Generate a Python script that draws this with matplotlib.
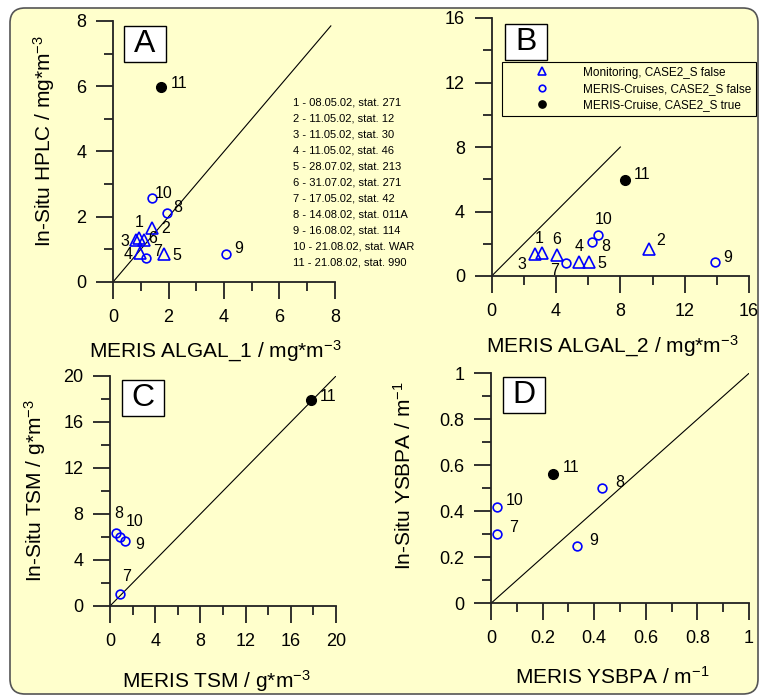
import matplotlib
matplotlib.use('Agg')
import matplotlib.pyplot as plt
from matplotlib.patches import FancyBboxPatch, Rectangle
from matplotlib.ticker import MultipleLocator, FuncFormatter

plt.rcParams['font.family'] = ['Liberation Sans', 'DejaVu Sans']
plt.rcParams['mathtext.fontset'] = 'custom'
plt.rcParams['mathtext.rm'] = 'Liberation Sans'
plt.rcParams['mathtext.default'] = 'regular'

# ---- data ----
# point ids: 1-6 monitoring, 7-10 MERIS cruises, 11 MERIS cruise (CASE2_S true)
ids_all = [1, 2, 3, 4, 5, 6, 7, 8, 9, 10, 11]
algal1_meris = [0.95, 1.40, 0.82, 0.97, 1.82, 1.12, 1.18, 1.94, 4.08, 1.40, 1.73]
algal1_insitu = [1.36, 1.64, 1.28, 0.90, 0.87, 1.30, 0.75, 2.10, 0.85, 2.58, 5.97]
algal2_meris = [3.10, 9.79, 2.69, 5.44, 6.06, 4.04, 4.61, 6.25, 13.87, 6.62, 8.28]
algal2_insitu = [1.41, 1.66, 1.35, 0.89, 0.89, 1.30, 0.79, 2.13, 0.85, 2.55, 5.96]

ids_cruise = [7, 8, 9, 10, 11]
tsm_meris = [0.88, 0.53, 1.33, 0.88, 17.8]
tsm_insitu = [1.05, 6.38, 5.64, 6.03, 17.9]
ysbpa_meris = [0.022, 0.431, 0.332, 0.022, 0.241]
ysbpa_insitu = [0.303, 0.501, 0.249, 0.419, 0.560]

station_list = ['1 - 08.05.02, stat. 271', '2 - 11.05.02, stat. 12',
                '3 - 11.05.02, stat. 30', '4 - 11.05.02, stat. 46',
                '5 - 28.07.02, stat. 213', '6 - 31.07.02, stat. 271',
                '7 - 17.05.02, stat. 42', '8 - 14.08.02, stat. 011A',
                '9 - 16.08.02, stat. 114', '10 - 21.08.02, stat. WAR',
                '11 - 21.08.02, stat. 990']

legend_labels = {'mon': 'Monitoring, CASE2_S false',
                 'cru': 'MERIS-Cruises, CASE2_S false',
                 'true': 'MERIS-Cruise, CASE2_S true'}

# label offsets (pixels) of the point numbers
offs_A = {1: (0, 15), 2: (14, 0), 3: (-11, -1), 4: (-12, -2), 5: (13, -2), 6: (9, 1),
          7: (12, 6), 8: (11, 6), 9: (12, 6), 10: (12, 4), 11: (18, 4)}
offs_B = {1: (-2, 15), 2: (11, 9), 3: (-13, -10), 4: (0, 15), 5: (13, -2), 6: (0, 16),
          7: (-11, -7), 8: (14, -5), 9: (13, 5), 10: (5, 15), 11: (17, 5)}
offs_C = {7: (7, 17), 8: (3, 19), 9: (15, -3), 10: (15, 15), 11: (17, 4)}
offs_D = {7: (17, 6), 8: (18, 6), 9: (17, 6), 10: (18, 6), 11: (18, 7)}

styles = {'mon': dict(marker='^', ms=8, mfc='none', mec='blue', mew=1.2),
          'cru': dict(marker='o', ms=6.3, mfc='none', mec='blue', mew=1.2),
          'true': dict(marker='o', ms=7, mfc='black', mec='black', mew=1)}


def group_of(i):
    if i <= 6:
        return 'mon'
    if i <= 10:
        return 'cru'
    return 'true'


def setup(ax, xmax, xmaj, xmi, ymax, ymaj, ymi, fmt='%g'):
    ax.set_facecolor('none')
    ax.set_xlim(0, xmax)
    ax.set_ylim(0, ymax)
    for s in ['top', 'right']:
        ax.spines[s].set_visible(False)
    for s in ['left', 'bottom']:
        ax.spines[s].set_linewidth(1.3)
        ax.spines[s].set_color('#222222')
    ax.xaxis.set_major_locator(MultipleLocator(xmaj))
    ax.xaxis.set_minor_locator(MultipleLocator(xmi))
    ax.yaxis.set_major_locator(MultipleLocator(ymaj))
    ax.yaxis.set_minor_locator(MultipleLocator(ymi))
    f = FuncFormatter(lambda v, p: fmt % v)
    ax.xaxis.set_major_formatter(f)
    ax.yaxis.set_major_formatter(f)
    ax.tick_params(which='major', direction='out', length=12.2, width=1.3,
                   color='#222222', labelsize=13)
    ax.tick_params(which='minor', direction='out', length=6.5, width=1.3,
                   color='#222222')
    ax.tick_params(axis='x', which='major', pad=7)
    ax.tick_params(axis='y', which='major', pad=7)


def draw_points(ax, xs, ys, ids, offs):
    for g in ['mon', 'cru', 'true']:
        gx = [x for x, i in zip(xs, ids) if group_of(i) == g]
        gy = [y for y, i in zip(ys, ids) if group_of(i) == g]
        if gx:
            ax.plot(gx, gy, ls='none', label=legend_labels[g], clip_on=False,
                    zorder=3, **styles[g])
    for x, y, i in zip(xs, ys, ids):
        ax.annotate(str(i), (x, y), xytext=offs[i], textcoords='offset pixels',
                    ha='center', va='center', fontsize=11.5)


fig = plt.figure(figsize=(7.62, 6.97), dpi=100)
fig.patch.set_facecolor('white')
frame = FancyBboxPatch((0.10, 0.03), 7.48, 6.86,
                       boxstyle='round,pad=0,rounding_size=0.15',
                       transform=fig.dpi_scale_trans, fc='#FFFFCC',
                       ec='#555555', lw=1.2, zorder=-10)
fig.patches.append(frame)

W, H = 762.0, 697.0

# panel A
axA = fig.add_axes([113 / W, 1 - 282 / H, 222 / W, 261 / H])
setup(axA, 8, 2, 1, 8, 2, 1)
axA.plot([0, 7.85], [0, 7.85], color='black', lw=0.8)
draw_points(axA, algal1_meris, algal1_insitu, ids_all, offs_A)
for k, line in enumerate(station_list):
    axA.text((293 - 113) / 222, (282 - (102.7 + 16 * k)) / 261, line,
             transform=axA.transAxes, ha='left', va='center', fontsize=8)
axA.set_xlabel('MERIS ALGAL_1 / mg*m$^{-3}$', fontsize=15)
axA.xaxis.set_label_coords(0.46, -0.215)
axA.set_ylabel('In-Situ HPLC / mg*m$^{-3}$', fontsize=15)
axA.yaxis.set_label_coords(-0.252, 0.54)

# panel B
axB = fig.add_axes([491.7 / W, 1 - 276 / H, 257.3 / W, 258 / H])
setup(axB, 16, 4, 2, 16, 4, 2)
axB.plot([0, 8], [0, 8], color='black', lw=0.8)
draw_points(axB, algal2_meris, algal2_insitu, ids_all, offs_B)
leg = axB.legend(loc='upper left', bbox_to_anchor=(0.04, 0.83), borderaxespad=0,
                 fontsize=8.5, handlelength=6, handletextpad=0.47, borderpad=0.4,
                 labelspacing=0.35, markerscale=0.75, numpoints=1, fancybox=False,
                 framealpha=1, facecolor='#FFFFCC', edgecolor='black')
leg.get_frame().set_linewidth(0.8)
axB.set_xlabel('MERIS ALGAL_2 / mg*m$^{-3}$', fontsize=15)
axB.xaxis.set_label_coords(0.468, -0.225)

# panel C
axC = fig.add_axes([110 / W, 1 - 606 / H, 226 / W, 230 / H])
setup(axC, 20, 4, 2, 20, 4, 2)
axC.plot([0, 20], [0, 20], color='black', lw=0.8)
draw_points(axC, tsm_meris, tsm_insitu, ids_cruise, offs_C)
axC.set_xlabel('MERIS TSM / g*m$^{-3}$', fontsize=15)
axC.xaxis.set_label_coords(0.472, -0.27)
axC.set_ylabel('In-Situ TSM / g*m$^{-3}$', fontsize=15)
axC.yaxis.set_label_coords(-0.274, 0.5)

# panel D
axD = fig.add_axes([491 / W, 1 - 603.3 / H, 258 / W, 230 / H])
setup(axD, 1, 0.2, 0.1, 1, 0.2, 0.1)
axD.plot([0, 1], [0, 1], color='black', lw=0.8)
draw_points(axD, ysbpa_meris, ysbpa_insitu, ids_cruise, offs_D)
axD.set_xlabel('MERIS YSBPA / m$^{-1}$', fontsize=15)
axD.xaxis.set_label_coords(0.471, -0.274)
axD.set_ylabel('In-Situ YSBPA / m$^{-1}$', fontsize=15)
axD.yaxis.set_label_coords(-0.295, 0.557)

# panel letters in white boxes
for letter, (x0, y0) in zip(['A', 'B', 'C', 'D'],
                            [(124, 26), (505, 24), (122, 380), (503, 377)]):
    fig.patches.append(Rectangle((x0 / W, 1 - (y0 + 36) / H), 42 / W, 36 / H,
                                 transform=fig.transFigure, fc='white',
                                 ec='black', lw=1, zorder=2))
    fig.text((x0 + 21) / W, 1 - (y0 + 18) / H, letter, ha='center', va='center',
             fontsize=23, zorder=3)

fig.savefig('out.png', dpi=100)
